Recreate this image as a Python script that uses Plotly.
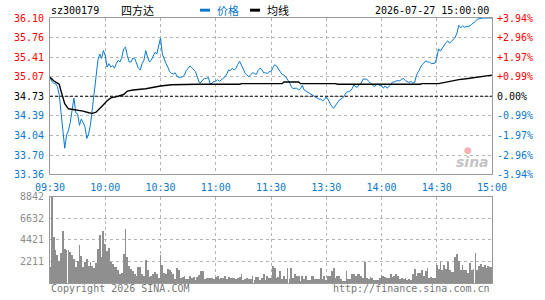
import plotly.graph_objects as go

# ---------------- data ----------------
prev_close = 34.73
stock_code = "sz300179"
stock_name = "四方达"
timestamp = "2026-07-27 15:00:00"

time_ticks = [0, 30, 60, 90, 120, 150, 180, 210, 240]
time_labels = ["09:30", "10:00", "10:30", "11:00", "11:30", "13:30", "14:00", "14:30", "15:00"]

price_ticks = [36.10, 35.76, 35.41, 35.07, 34.73, 34.39, 34.04, 33.70, 33.36]
pct_labels = ["+3.94%", "+2.96%", "+1.97%", "+0.99%", "0.00%", "-0.99%", "-1.97%", "-2.96%", "-3.94%"]

vol_ticks = [2211, 4421, 6632, 8842]

# minute-by-minute price (minute 0 = 09:30 ... 240 = 15:00)
price = [
    35.06, 34.99, 34.96, 34.95, 34.90, 34.76, 34.44, 34.10, 33.82, 34.05,
    34.13, 34.27, 34.50, 34.70, 34.44, 34.42, 34.22, 34.33, 34.27, 34.19,
    33.99, 34.07, 34.24, 34.56, 34.87, 35.07, 35.36, 35.47, 35.39, 35.53,
    35.44, 35.24, 35.30, 35.24, 35.27, 35.22, 35.30, 35.36, 35.33, 35.41,
    35.56, 35.59, 35.44, 35.33, 35.33, 35.40, 35.39, 35.30, 35.22, 35.19,
    35.30, 35.36, 35.53, 35.41, 35.33, 35.36, 35.44, 35.50, 35.47, 35.64,
    35.75, 35.47, 35.37, 35.30, 35.24, 35.16, 35.13, 35.12, 35.14, 35.08,
    35.06, 35.06, 35.07, 35.10, 35.18, 35.22, 35.26, 35.23, 35.20, 35.16,
    35.07, 34.97, 34.97, 35.02, 35.04, 35.04, 35.06, 34.94, 34.96, 34.99,
    34.99, 35.02, 34.99, 35.02, 35.04, 35.07, 35.12, 35.19, 35.18, 35.22,
    35.19, 35.22, 35.29, 35.34, 35.27, 35.20, 35.13, 35.10, 35.07, 35.11,
    35.14, 35.13, 35.11, 35.18, 35.22, 35.20, 35.14, 35.14, 35.13, 35.16,
    35.16, 35.23, 35.28, 35.26, 35.20, 35.16, 35.11, 35.10, 35.07, 35.03,
    34.97, 34.90, 34.86, 34.87, 34.87, 34.84, 34.86, 34.92, 34.84, 34.82,
    34.80, 34.78, 34.76, 34.73, 34.71, 34.70, 34.68, 34.68, 34.65, 34.67,
    34.72, 34.67, 34.60, 34.55, 34.52, 34.57, 34.63, 34.66, 34.68, 34.70,
    34.75, 34.80, 34.81, 34.82, 34.86, 34.93, 34.89, 34.89, 34.94, 34.96,
    35.03, 35.03, 35.03, 34.99, 34.96, 34.94, 34.90, 34.92, 34.95, 34.91,
    34.92, 34.87, 34.91, 34.87, 34.90, 34.93, 34.98, 34.98, 35.00, 35.00,
    35.00, 35.03, 35.04, 35.00, 34.99, 34.97, 34.99, 34.96, 34.97, 35.10,
    35.16, 35.23, 35.28, 35.31, 35.35, 35.33, 35.33, 35.30, 35.30, 35.31,
    35.40, 35.56, 35.52, 35.57, 35.63, 35.67, 35.70, 35.66, 35.69, 35.72,
    35.76, 35.84, 35.97, 35.93, 35.96, 35.94, 35.95, 35.95, 35.96, 35.99,
    36.01, 36.04, 36.08, 36.09, 36.10, 36.10, 36.10, 36.10, 36.10, 36.10,
    36.10,
]

# average-price line, read at its turning points
avg_min = [0, 2, 4, 5, 6, 7, 8, 10, 15, 18, 21, 23, 25, 27, 29, 31, 33, 37, 40, 42, 45,
           52, 57, 60, 66, 80, 103, 104, 126, 127, 135, 136, 155, 156, 201, 202, 211,
           214, 218, 222, 227, 233, 240]
avg_val = [35.06, 35.00, 34.96, 34.94, 34.82, 34.70, 34.60, 34.51, 34.49, 34.47, 34.44,
           34.43, 34.45, 34.51, 34.58, 34.65, 34.70, 34.73, 34.76, 34.82, 34.84, 34.86,
           34.89, 34.91, 34.93, 34.94, 34.94, 34.95, 34.95, 34.98, 34.98, 34.95, 34.95,
           34.94, 34.94, 34.95, 34.95, 34.97, 34.99, 35.02, 35.04, 35.07, 35.10]

volume = [
    1650, 8842, 4700, 3400, 2880, 2250, 3050, 5400, 3500, 3400,
    3400, 3230, 2880, 2460, 1650, 2250, 3860, 2770, 1650, 2180,
    2460, 1750, 2180, 1750, 1540, 2070, 3500, 4900, 2700, 5330,
    4000, 3300, 3650, 2180, 1930, 1650, 1650, 1300, 910, 1050,
    2980, 5600, 2700, 1750, 1400, 1190, 980, 770, 1610, 1610,
    880, 770, 2350, 1300, 600, 770, 880, 1090, 880, 490,
    2880, 1900, 1020, 910, 1400, 1300, 1120, 880, 390, 1540,
    1300, 490, 600, 770, 420, 420, 770, 490, 600, 350,
    600, 840, 1190, 1190, 420, 560, 560, 560, 490, 420,
    600, 700, 420, 490, 560, 770, 420, 600, 490, 490,
    490, 420, 560, 670, 880, 350, 420, 490, 390, 420,
    770, 350, 600, 670, 350, 490, 980, 350, 770, 560,
    490,
    1720, 1540, 490, 600, 1190, 420, 700, 420, 1540, 420,
    1540, 490, 980, 770, 770, 250, 770, 420, 770, 350,
    350, 770, 700, 420, 420, 420, 1540, 420, 770, 350,
    770, 770, 1190, 1540, 490, 770, 770, 420, 250, 250,
    1190, 420, 420, 880, 880, 770, 910, 910, 770, 490,
    2140, 490, 420, 670, 560, 350, 350, 350, 490, 840,
    770, 600, 560, 490, 880, 600, 770, 980, 770, 420,
    490, 420, 560, 350, 420, 350, 980, 1400, 770, 1050,
    1050, 1300, 770, 1190, 1540, 560, 670, 560, 560, 1900,
    1400, 2180, 1300, 1830, 1400, 2180, 1300, 1120, 1120, 2670,
    2950, 2250, 1300, 1830, 1300, 1300, 1050, 2100, 1300, 1400,
    3050, 1300, 1750, 2000, 1680, 1830, 1500, 1800, 1650, 1700,
]

minutes = list(range(len(price)))
vol_minutes = list(range(len(volume)))

# ---------------- styling ----------------
BLUE = "#0a78cc"
RED = "#ff0000"
GRAY = "#999999"
GRID = "#b4b4b4"
MONO = "DejaVu Sans Mono, Liberation Mono, monospace"
CJK = "Noto Sans CJK SC, sans-serif"


def colour_for(v):
    if v > prev_close + 1e-9:
        return RED
    if v < prev_close - 1e-9:
        return BLUE
    return "#000000"


left_text = [f'<span style="color:{colour_for(v)}">{v:.2f}</span>' for v in price_ticks]
right_text = [f'<span style="color:{colour_for(v)}">{t}</span>' for v, t in zip(price_ticks, pct_labels)]

fig = go.Figure()

fig.add_trace(go.Scatter(x=minutes, y=price, mode="lines", line=dict(color=BLUE, width=1),
                         xaxis="x", yaxis="y", hoverinfo="skip"))
fig.add_trace(go.Scatter(x=avg_min, y=avg_val, mode="lines", line=dict(color="#000000", width=1.4),
                         xaxis="x", yaxis="y", hoverinfo="skip"))
# invisible trace to carry the right-hand percentage axis
fig.add_trace(go.Scatter(x=minutes, y=price, mode="lines", line=dict(color="rgba(0,0,0,0)", width=0),
                         xaxis="x", yaxis="y3", hoverinfo="skip"))
fig.add_trace(go.Bar(x=vol_minutes, y=volume, width=0.45, marker=dict(color="#8f8f8f", line=dict(width=0)),
                     xaxis="x2", yaxis="y2", hoverinfo="skip"))

main_dom = [0.4096, 1.0]
vol_dom = [0.0, 0.3247]

fig.update_layout(
    width=545, height=300,
    margin=dict(l=50, r=53, t=18, b=11),
    paper_bgcolor="white", plot_bgcolor="white",
    showlegend=False, bargap=0,
    font=dict(family=MONO, size=10),
    xaxis=dict(domain=[0, 1], range=[0, 240], anchor="y",
               tickvals=time_ticks, ticktext=time_labels,
               tickfont=dict(family=MONO, size=10, color=BLUE),
               ticks="outside", ticklen=4, tickcolor="rgba(0,0,0,0)",
               showgrid=True, gridcolor=GRID, griddash="dot", gridwidth=1,
               showline=True, linecolor=GRAY, linewidth=1, mirror=True, zeroline=False),
    yaxis=dict(domain=main_dom, range=[price_ticks[-1], price_ticks[0]], anchor="x",
               tickvals=price_ticks, ticktext=left_text,
               tickfont=dict(family=MONO, size=10),
               ticks="outside", ticklen=3, tickcolor="rgba(0,0,0,0)",
               showgrid=True, gridcolor=GRID, griddash="dot", gridwidth=1,
               showline=True, linecolor=GRAY, linewidth=1, mirror=True, zeroline=False),
    yaxis3=dict(overlaying="y", side="right", anchor="x",
                range=[price_ticks[-1], price_ticks[0]],
                tickvals=price_ticks, ticktext=right_text,
                tickfont=dict(family=MONO, size=10),
                ticks="outside", ticklen=2, tickcolor="rgba(0,0,0,0)",
                showgrid=False, zeroline=False, showline=False),
    xaxis2=dict(domain=[0, 1], range=[0, 240], anchor="y2",
                tickvals=time_ticks, showticklabels=False,
                showgrid=True, gridcolor=GRID, griddash="dot", gridwidth=1,
                showline=True, linecolor=GRAY, linewidth=1, mirror=True, zeroline=False),
    yaxis2=dict(domain=vol_dom, range=[0, vol_ticks[-1]], anchor="x2",
                tickvals=vol_ticks, ticktext=[str(v) for v in vol_ticks],
                tickfont=dict(family=MONO, size=10, color="#8c8c8c"),
                ticks="outside", ticklen=3, tickcolor="rgba(0,0,0,0)",
                showgrid=True, gridcolor=GRID, griddash="dot", gridwidth=1,
                showline=True, linecolor=GRAY, linewidth=1, mirror=True, zeroline=False),
)

# previous-close dashed line
fig.add_shape(type="line", xref="x", yref="y", x0=0, x1=240, y0=prev_close, y1=prev_close,
              line=dict(color="#000000", width=1, dash="3px,2px"))

# header
def py(px):
    return (289 - px) / 271.0

def pxx(px):
    return (px - 50) / 442.0

ann = []
ann.append(dict(text=stock_code, x=pxx(49), y=py(10), xanchor="left", yanchor="middle",
                font=dict(family=MONO, size=10, color="#000000")))
ann.append(dict(text=stock_name, x=pxx(119), y=py(10), xanchor="left", yanchor="middle",
                font=dict(family=CJK, size=11, color="#000000")))
ann.append(dict(text="价格", x=pxx(215), y=py(10), xanchor="left", yanchor="middle",
                font=dict(family=CJK, size=11, color=BLUE)))
ann.append(dict(text="均线", x=pxx(265), y=py(10), xanchor="left", yanchor="middle",
                font=dict(family=CJK, size=11, color="#000000")))
ann.append(dict(text=timestamp, x=pxx(491), y=py(10), xanchor="right", yanchor="middle",
                font=dict(family=MONO, size=10, color="#000000")))
ann.append(dict(text="Copyright 2026 SINA.COM", x=pxx(49), y=py(295), xanchor="left", yanchor="middle",
                font=dict(family=MONO, size=10, color="#777777")))
ann.append(dict(text="http://finance.sina.com.cn", x=pxx(492), y=py(295), xanchor="right", yanchor="middle",
                font=dict(family=MONO, size=10, color="#777777")))
ann.append(dict(text="<b><i>sina</i></b>", x=pxx(472), y=py(165), xanchor="center", yanchor="middle",
                font=dict(family="DejaVu Sans, sans-serif", size=14, color="#c4c4c4")))
ann.append(dict(text="●", x=pxx(468), y=py(153), xanchor="center", yanchor="middle",
                font=dict(family="DejaVu Sans, sans-serif", size=9, color="#f3b3b3")))
for a in ann:
    a.update(xref="paper", yref="paper", showarrow=False)
fig.update_layout(annotations=ann)

# legend swatches
fig.add_shape(type="rect", xref="paper", yref="paper", x0=pxx(200), x1=pxx(210), y0=py(11.5), y1=py(8.5),
              fillcolor=BLUE, line=dict(width=0))
fig.add_shape(type="rect", xref="paper", yref="paper", x0=pxx(250), x1=pxx(260), y0=py(11.5), y1=py(8.5),
              fillcolor="#000000", line=dict(width=0))

fig.write_html("out.html")
